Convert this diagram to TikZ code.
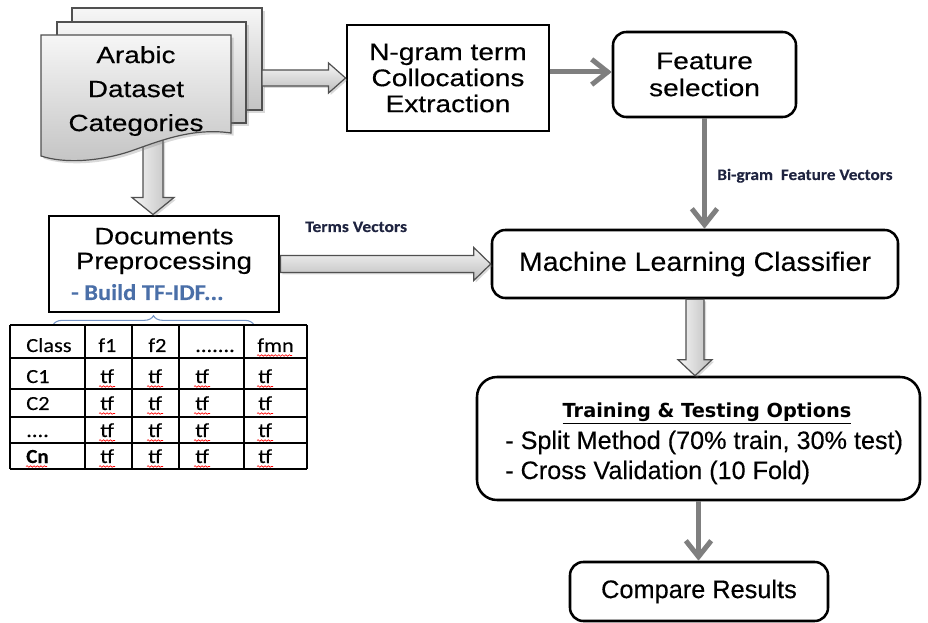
\documentclass[tikz,border=0pt]{standalone}
\usepackage{fontspec}
\usepackage{graphicx}
\setmainfont[FakeBold=0.3]{Liberation Sans}
\newfontfamily\calib[FakeBold=0.2]{Carlito}
\newfontfamily\dejavu{DejaVu Sans}
\usetikzlibrary{arrows.meta,calc,shadows,decorations.pathmorphing,decorations.pathreplacing}
\definecolor{arrgray}{HTML}{7F7F7F}
\definecolor{blkline}{HTML}{505050}
\definecolor{blklight}{HTML}{F6F6F6}
\definecolor{blkdark}{HTML}{BDBDBD}
\definecolor{tfblue}{HTML}{4A6FA8}
\definecolor{bracecol}{HTML}{7393C4}
\definecolor{lblcol}{HTML}{1F2440}
% horizontally widened text
\newcommand\stretchx[2]{\scalebox{#1}[1]{#2}}

\begin{document}
\begin{tikzpicture}[x=0.75pt,y=-0.75pt,
  sqbox/.style={draw, line width=2.2pt, inner sep=0pt, align=center},
  rbox/.style={draw, line width=1.9pt, rounded corners=10pt, inner sep=0pt, align=center},
  garrow/.style={draw=arrgray, line width=3.75pt, -{Straight Barb[length=12pt,width=19pt]}},
  blk/.style={draw=blkline, line width=0.9pt, line join=miter,
    drop shadow={shadow xshift=1.5pt, shadow yshift=-1.5pt, opacity=0.3}},
  hblk/.style={blk, top color=blklight, bottom color=blkdark},
  vblk/.style={blk, left color=blklight, right color=blkdark},
  page/.style={draw=blkline, line width=0.9pt, top color=blklight, bottom color=blkdark!90,
    drop shadow={shadow xshift=2pt, shadow yshift=-2pt, opacity=0.3}},
  cell/.style={font=\calib\fontsize{15}{18}\selectfont, anchor=base west, inner sep=0pt},
  tabline/.style={draw=black, line width=0.9pt},
  wavy/.style={draw=red, line width=0.45pt, decorate,
    decoration={snake, amplitude=0.6pt, segment length=2.6pt}},
  lbl/.style={font=\calib\bfseries\fontsize{12}{14}\selectfont, text=lblcol, anchor=base west, inner sep=0pt}]

\useasboundingbox (0,0) rectangle (928,623);

% ---- process boxes ----
\node[sqbox, minimum width=151.5pt, minimum height=79.5pt,
      font=\fontsize{18}{19.5}\selectfont] (ngram) at (448,78)
  {\stretchx{1.17}{N-gram term}\\\stretchx{1.17}{Collocations}\\\stretchx{1.17}{Extraction}};
\node[rbox, minimum width=137.25pt, minimum height=63.75pt,
      font=\fontsize{18}{20.25}\selectfont] (feat) at (704.5,74.5)
  {\stretchx{1.17}{Feature}\\\stretchx{1.17}{selection}};
\node[sqbox, minimum width=172.5pt, minimum height=72pt] (docs) at (164,264) {};
\node[font=\fontsize{17.8}{18.6}\selectfont, align=center] (doctxt) at (164,251)
  {\stretchx{1.16}{Documents}\\\stretchx{1.16}{Preprocessing}};
\node[font=\calib\bfseries\fontsize{17}{20}\selectfont, text=tfblue, anchor=base west, inner sep=0pt]
  (tfidf) at (71,300) {\stretchx{1.08}{- Build TF-IDF...}};
\node[rbox, minimum width=304.5pt, minimum height=51pt,
      font=\fontsize{20}{24}\selectfont] (ml) at (695,264)
  {\stretchx{1.07}{Machine Learning Classifier}};
\node[rbox, rounded corners=15pt, minimum width=332.25pt, minimum height=92.25pt] (train) at (698.5,438.5) {};
\node[font=\dejavu\bfseries\fontsize{14.5}{17}\selectfont, anchor=base, inner sep=0pt]
  (ttl) at (707,417) {\underline{Training \& Testing Options}};
\node[font=\fontsize{18.9}{22}\selectfont, anchor=base west, inner sep=0pt]
  (opt1) at (505,449) {- Split Method (70\% train, 30\% test)};
\node[font=\fontsize{18.9}{22}\selectfont, anchor=base west, inner sep=0pt]
  (opt2) at (505,479) {- Cross Validation (10 Fold)};
\node[rbox, minimum width=193.5pt, minimum height=44.25pt,
      font=\fontsize{19}{22}\selectfont] (cmp) at (699,591.5) {Compare Results};

% ---- block arrow from the document stack down to preprocessing ----
\coordinate (s2) at (153,140);
\coordinate (t2) at (s2 |- docs.north);
\path[vblk] ($(s2)+(-10,0)$) -- ($(t2)+(-10,-17)$) -- ($(t2)+(-21,-17)$) -- (t2)
  -- ($(t2)+(21,-17)$) -- ($(t2)+(10,-17)$) -- ($(s2)+(10,0)$) -- cycle;

% ---- stacked documents ----
\path[page] (72,8) rectangle (262,110);
\path[page] (57,22) rectangle (246,123);
\path[page] (41,35) -- (231,35) -- (231,133)
  .. controls (190,127) and (155,143) .. (128,152)
  .. controls (100,161) and (65,164) .. (41,156) -- cycle;
\node[font=\fontsize{17.6}{25.5}\selectfont, align=center] (stack) at (136,91)
  {\stretchx{1.19}{Arabic}\\\stretchx{1.19}{Dataset}\\\stretchx{1.19}{Categories}};

% ---- block arrows ----
\coordinate (s1) at (262,78);
\path[hblk] ($(s1)+(0,-8)$) -- ($(ngram.west)+(-17,-8)$) -- ($(ngram.west)+(-17,-15)$)
  -- (ngram.west) -- ($(ngram.west)+(-17,15)$) -- ($(ngram.west)+(-17,8)$)
  -- ($(s1)+(0,8)$) -- cycle;
\path[hblk] ($(docs.east)+(0,-8.5)$) -- ($(ml.west)+(-17,-8.5)$) -- ($(ml.west)+(-17,-16.5)$)
  -- (ml.west) -- ($(ml.west)+(-17,16.5)$) -- ($(ml.west)+(-17,8.5)$)
  -- ($(docs.east)+(0,8.5)$) -- cycle;
\coordinate (t4) at (ml.south |- train.north);
\path[vblk] ($(ml.south)+(-9,0)$) -- ($(t4)+(-9,-16)$) -- ($(t4)+(-17,-16)$) -- (t4)
  -- ($(t4)+(17,-16)$) -- ($(t4)+(9,-16)$) -- ($(ml.south)+(9,0)$) -- cycle;

% ---- plain arrows ----
\coordinate (lvl) at (580,72);
\draw[garrow] (lvl -| ngram.east) -- (lvl -| feat.west);
\draw[garrow] (feat.south) -- (feat.south |- ml.north);
\draw[garrow] (train.south) -- (train.south |- cmp.north);

% ---- arrow labels ----
\node[lbl] (termsv) at (305,232) {\stretchx{1.1}{Terms Vectors}};
\node[lbl] (bigram) at (717,180) {\stretchx{1.08}{Bi-gram\ \ Feature Vectors}};

% ---- TF table ----
\draw[bracecol, line width=0.8pt, decorate, decoration={brace, amplitude=7pt}] (53,325) -- (254,325);
\foreach \yy in {325,358,389,417,443,469} \draw[tabline] (10,\yy) -- (307,\yy);
\foreach \xx in {10,85,132,179,244,307} \draw[tabline] (\xx,325) -- (\xx,469);
\node[cell] (h1) at (26,352) {\stretchx{1.12}{Class}};
\node[cell] (h2) at (98,352) {\stretchx{1.12}{f1}};
\node[cell] (h3) at (148,352) {\stretchx{1.12}{f2}};
\node[cell] (h4) at (195,352) {\stretchx{1.12}{.......}};
\node[cell] (h5) at (257,352) {\stretchx{1.12}{fmn}};
\draw[wavy] (257,355.5) -- (292,355.5);
\node[cell] (r1) at (26,383) {\stretchx{1.12}{C1}};
\node[cell] (r2) at (26,410) {\stretchx{1.12}{C2}};
\node[cell] (r3) at (26,437) {\stretchx{1.12}{....}};
\node[cell, font=\calib\bfseries\fontsize{15}{18}\selectfont] (r4) at (26,463) {\stretchx{1.05}{Cn}};
\draw[wavy] (26,466.5) -- (47,466.5);
\foreach \yy [count=\r] in {383,410,437,463} {
  \foreach \xx [count=\c] in {100,148,195,258} {
    \node[cell] (tf\r\c) at (\xx,\yy) {\stretchx{1.12}{tf}};
    \draw[wavy] (\xx-1,\yy+3.5) -- (\xx+15,\yy+3.5);
  }
}
\end{tikzpicture}
\end{document}
